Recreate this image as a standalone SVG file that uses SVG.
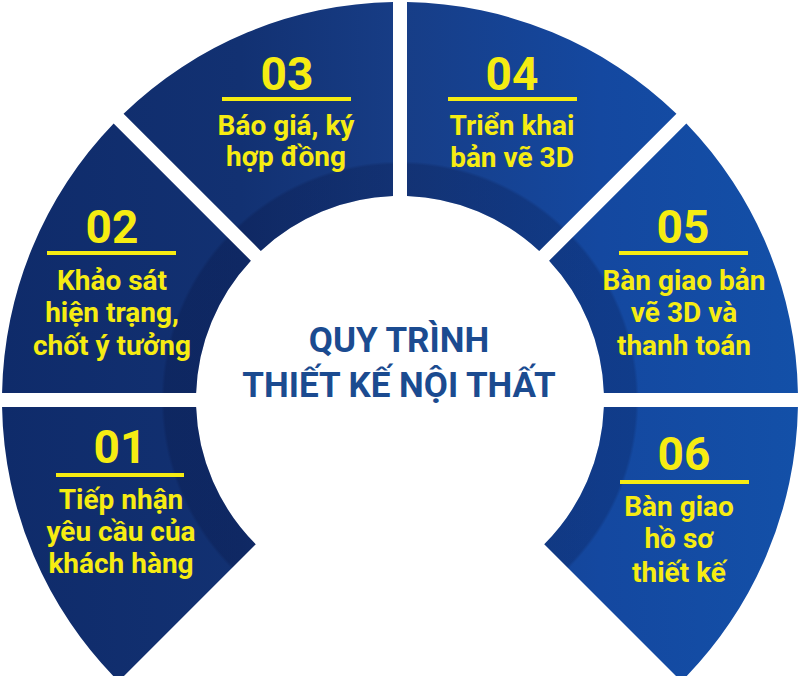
<svg xmlns="http://www.w3.org/2000/svg" width="800" height="676" viewBox="0 0 800 676">
<defs>
<linearGradient id="segFill" gradientUnits="userSpaceOnUse" x1="0" y1="0" x2="800" y2="0">
<stop offset="0" stop-color="#0f2b6a"/>
<stop offset="0.3" stop-color="#123172"/>
<stop offset="0.5" stop-color="#173d86"/>
<stop offset="0.75" stop-color="#1448a0"/>
<stop offset="1" stop-color="#1350a8"/>
</linearGradient>
<radialGradient id="band" gradientUnits="userSpaceOnUse" cx="400" cy="400" r="398">
<stop offset="0.5" stop-color="#000020" stop-opacity="0.18"/>
<stop offset="0.592" stop-color="#000020" stop-opacity="0.18"/>
<stop offset="0.6" stop-color="#000020" stop-opacity="0"/>
<stop offset="1" stop-color="#000020" stop-opacity="0"/>
</radialGradient>
<style>
.seg{fill:url(#segFill);}
.shade{fill:url(#band);}
.num{font-family:Roboto,"Liberation Sans",sans-serif;font-weight:700;font-size:46px;fill:#f6ec12;text-anchor:middle;}
.lbl{font-family:Roboto,"Liberation Sans",sans-serif;font-weight:700;font-size:28px;fill:#f6ec12;text-anchor:middle;}
.rule{stroke:#f6ec12;stroke-width:4;}
.title{font-family:Roboto,"Liberation Sans",sans-serif;font-weight:700;font-size:35px;fill:#1b4b90;text-anchor:middle;}
</style>
</defs>
<rect width="800" height="676" fill="#ffffff"/>

<g id="step01">
<path class="seg" d="M 255.75 544.25 L 118.57 681.43 A 398 398 0 0 1 2.06 407 L 196.12 407 A 204 204 0 0 0 255.75 544.25 Z"/>
<path class="shade" d="M 255.75 544.25 L 118.57 681.43 A 398 398 0 0 1 2.06 407 L 196.12 407 A 204 204 0 0 0 255.75 544.25 Z"/>
<text class="num" x="120" y="463">01</text>
<line class="rule" x1="56" y1="475" x2="184" y2="475"/>
<text class="lbl" x="121" y="509">Tiếp nhận</text>
<text class="lbl" x="121" y="541">yêu cầu của</text>
<text class="lbl" x="121" y="573">khách hàng</text>
</g>

<g id="step02">
<path class="seg" d="M 196.12 393 L 2.06 393 A 398 398 0 0 1 113.66 123.56 L 250.89 260.79 A 204 204 0 0 0 196.12 393 Z"/>
<path class="shade" d="M 196.12 393 L 2.06 393 A 398 398 0 0 1 113.66 123.56 L 250.89 260.79 A 204 204 0 0 0 196.12 393 Z"/>
<text class="num" x="112" y="243">02</text>
<line class="rule" x1="47" y1="253" x2="176" y2="253"/>
<text class="lbl" x="112" y="290">Khảo sát</text>
<text class="lbl" x="112" y="322">hiện trạng,</text>
<text class="lbl" x="112" y="355">chốt ý tưởng</text>
</g>

<g id="step03">
<path class="seg" d="M 260.79 250.89 L 123.56 113.66 A 398 398 0 0 1 393 2.06 L 393 196.12 A 204 204 0 0 0 260.79 250.89 Z"/>
<path class="shade" d="M 260.79 250.89 L 123.56 113.66 A 398 398 0 0 1 393 2.06 L 393 196.12 A 204 204 0 0 0 260.79 250.89 Z"/>
<text class="num" x="287" y="90">03</text>
<line class="rule" x1="222" y1="99" x2="351" y2="99"/>
<text class="lbl" x="286" y="135">Báo giá, ký</text>
<text class="lbl" x="286" y="166">hợp đồng</text>
</g>

<g id="step04">
<path class="seg" d="M 407 196.12 L 407 2.06 A 398 398 0 0 1 676.44 113.66 L 539.21 250.89 A 204 204 0 0 0 407 196.12 Z"/>
<path class="shade" d="M 407 196.12 L 407 2.06 A 398 398 0 0 1 676.44 113.66 L 539.21 250.89 A 204 204 0 0 0 407 196.12 Z"/>
<text class="num" x="512" y="90">04</text>
<line class="rule" x1="448" y1="99" x2="577" y2="99"/>
<text class="lbl" x="512" y="135">Triển khai</text>
<text class="lbl" x="512" y="167">bản vẽ 3D</text>
</g>

<g id="step05">
<path class="seg" d="M 549.11 260.79 L 686.34 123.56 A 398 398 0 0 1 797.94 393 L 603.88 393 A 204 204 0 0 0 549.11 260.79 Z"/>
<path class="shade" d="M 549.11 260.79 L 686.34 123.56 A 398 398 0 0 1 797.94 393 L 603.88 393 A 204 204 0 0 0 549.11 260.79 Z"/>
<text class="num" x="683" y="243">05</text>
<line class="rule" x1="619" y1="253" x2="748" y2="253"/>
<text class="lbl" x="684" y="290">Bàn giao bản</text>
<text class="lbl" x="684" y="322">vẽ 3D và</text>
<text class="lbl" x="684" y="355">thanh toán</text>
</g>

<g id="step06">
<path class="seg" d="M 603.88 407 L 797.94 407 A 398 398 0 0 1 681.43 681.43 L 544.25 544.25 A 204 204 0 0 0 603.88 407 Z"/>
<path class="shade" d="M 603.88 407 L 797.94 407 A 398 398 0 0 1 681.43 681.43 L 544.25 544.25 A 204 204 0 0 0 603.88 407 Z"/>
<text class="num" x="684" y="470">06</text>
<line class="rule" x1="620" y1="482" x2="749" y2="482"/>
<text class="lbl" x="679" y="516">Bàn giao</text>
<text class="lbl" x="679" y="548">hồ sơ</text>
<text class="lbl" x="679" y="582">thiết kế</text>
</g>

<g id="title">
<text class="title" x="399" y="352">QUY TRÌNH</text>
<text class="title" x="399" y="397">THIẾT KẾ NỘI THẤT</text>
</g>
</svg>
